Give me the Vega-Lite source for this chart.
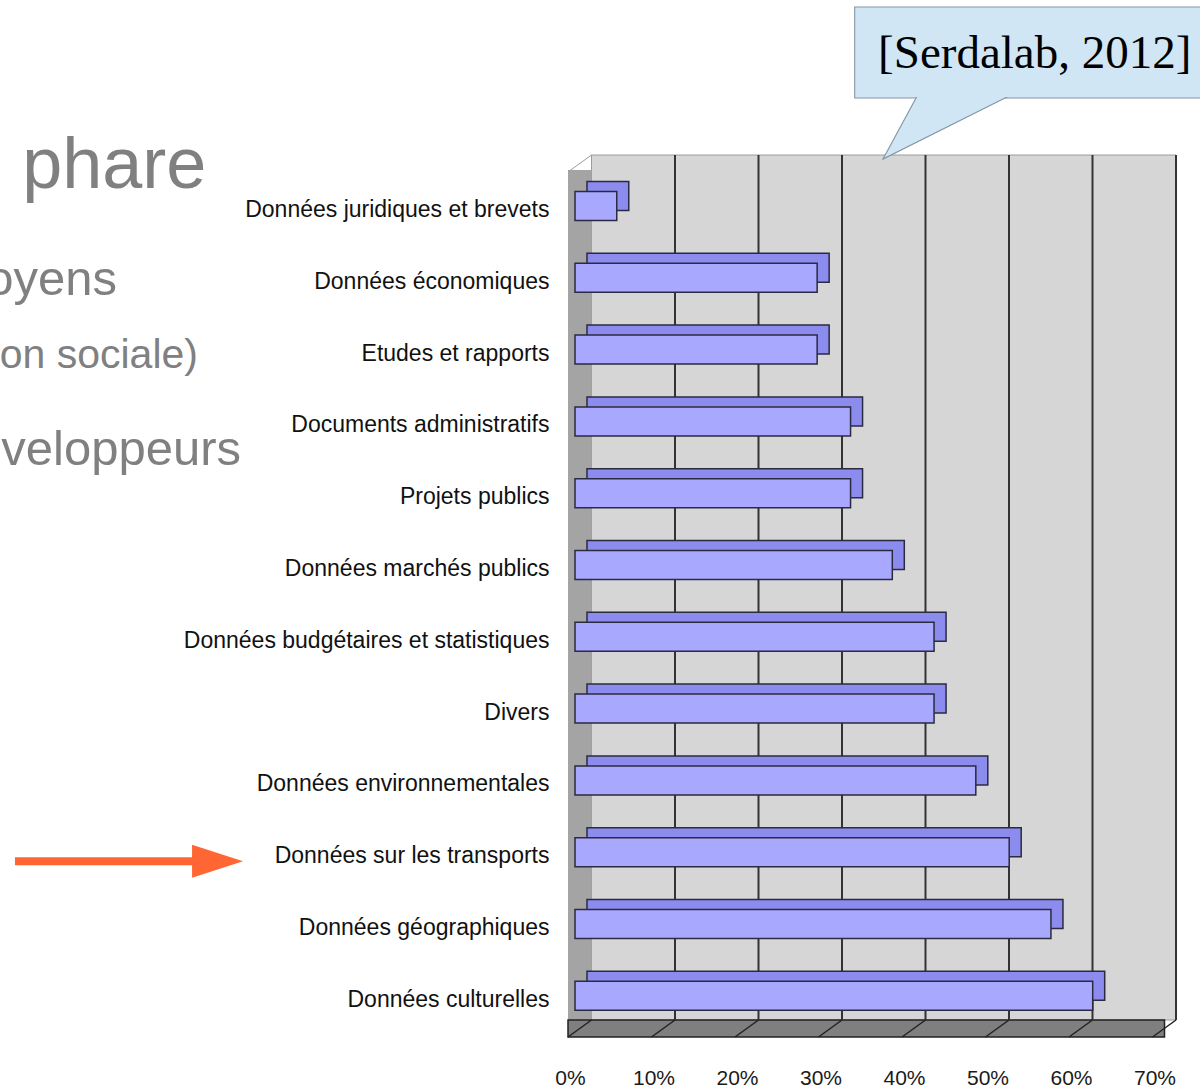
{
  "$schema": "https://vega.github.io/schema/vega-lite/v6.json",
  "width": 1200,
  "height": 1088,
  "padding": 0,
  "autosize": {"type": "none"},
  "background": "white",
  "config": {"view": {"stroke": null}, "font": "Liberation Sans"},
  "datasets": {
    "bars": [
      {"categorie": "Données juridiques et brevets", "part": 5},
      {"categorie": "Données économiques", "part": 29},
      {"categorie": "Etudes et rapports", "part": 29},
      {"categorie": "Documents administratifs", "part": 33},
      {"categorie": "Projets publics", "part": 33},
      {"categorie": "Données marchés publics", "part": 38},
      {"categorie": "Données budgétaires et statistiques", "part": 43},
      {"categorie": "Divers", "part": 43},
      {"categorie": "Données environnementales", "part": 48},
      {"categorie": "Données sur les transports", "part": 52},
      {"categorie": "Données géographiques", "part": 57},
      {"categorie": "Données culturelles", "part": 62}
    ],
    "grid": [{"v": 10}, {"v": 20}, {"v": 30}, {"v": 40}, {"v": 50}, {"v": 60}, {"v": 70}],
    "floorgrid": [{"v": 0}, {"v": 10}, {"v": 20}, {"v": 30}, {"v": 40}, {"v": 50}, {"v": 60}, {"v": 70}],
    "one": [{}]
  },
  "data": {"name": "bars"},
  "layer": [
    {
      "data": {"name": "one"},
      "mark": {"type": "bar", "color": "#a4a4a4", "height": 865, "yOffset": 389.5},
      "encoding": {
        "x": {"datum": 0, "type": "quantitative"},
        "x2": {"datum": 0},
        "y": {"datum": "Données juridiques et brevets", "type": "nominal"}
      }
    },
    {
      "data": {"name": "one"},
      "mark": {"type": "bar", "color": "#d6d6d6", "stroke": "#9c9c9c", "strokeWidth": 1, "height": 865, "yOffset": 381.5, "xOffset": 16.5, "x2Offset": 16.5},
      "encoding": {
        "x": {"datum": 0, "type": "quantitative"},
        "x2": {"datum": 70},
        "y": {"datum": "Données juridiques et brevets", "type": "nominal"}
      }
    },
    {
      "data": {"name": "one"},
      "mark": {"type": "bar", "color": "#a4a4a4", "height": 855, "yOffset": 391.5, "xOffset": -7, "x2Offset": 16.5},
      "encoding": {
        "x": {"datum": 0, "type": "quantitative"},
        "x2": {"datum": 0},
        "y": {"datum": "Données juridiques et brevets", "type": "nominal"}
      }
    },
    {
      "data": {"name": "one"},
      "mark": {"type": "bar", "color": "#7f7f7f", "stroke": "#222222", "strokeWidth": 1.5, "height": 17, "yOffset": 32.7, "xOffset": -7, "x2Offset": 5},
      "encoding": {
        "x": {"datum": 0, "type": "quantitative"},
        "x2": {"datum": 70},
        "y": {"datum": "Données culturelles", "type": "nominal"}
      }
    },
    {
      "data": {"name": "grid"},
      "mark": {"type": "rule", "color": "#333333", "strokeWidth": 2, "xOffset": 16.5, "yOffset": -51, "y2Offset": 24.2},
      "encoding": {
        "x": {"field": "v", "type": "quantitative"},
        "y": {"datum": "Données juridiques et brevets", "type": "nominal"},
        "y2": {"datum": "Données culturelles"}
      }
    },
    {
      "data": {"name": "floorgrid"},
      "mark": {"type": "rule", "color": "#222222", "strokeWidth": 1.5, "xOffset": 16.5, "x2Offset": -7, "yOffset": 24.2, "y2Offset": 41.2},
      "encoding": {
        "x": {"field": "v", "type": "quantitative"},
        "x2": {"field": "v"},
        "y": {"datum": "Données culturelles", "type": "nominal"},
        "y2": {"datum": "Données culturelles"}
      }
    },
    {
      "data": {"name": "one"},
      "mark": {"type": "rule", "color": "#9c9c9c", "strokeWidth": 1, "xOffset": -7, "x2Offset": 16.5, "yOffset": -34, "y2Offset": -51},
      "encoding": {
        "x": {"datum": 0, "type": "quantitative"},
        "x2": {"datum": 0},
        "y": {"datum": "Données juridiques et brevets", "type": "nominal"},
        "y2": {"datum": "Données juridiques et brevets"}
      }
    },
    {
      "mark": {"type": "bar", "color": "#8c8cee", "stroke": "#2a2a40", "strokeWidth": 1.5, "xOffset": 12, "x2Offset": 12, "yOffset": -10, "y2Offset": -10},
      "encoding": {
        "x": {"field": "part", "type": "quantitative"},
        "x2": {"datum": 0},
        "y": {"field": "categorie", "type": "nominal"}
      }
    },
    {
      "mark": {"type": "bar", "color": "#a8a8ff", "stroke": "#2a2a40", "strokeWidth": 1.5},
      "encoding": {
        "x": {
          "field": "part",
          "type": "quantitative",
          "scale": {"domain": [-68.862, 74.85], "nice": false, "zero": false},
          "axis": {
            "orient": "bottom",
            "offset": -4,
            "values": [0, 10, 20, 30, 40, 50, 60, 70],
            "labelExpr": "datum.value + '%'",
            "domain": false,
            "ticks": false,
            "tickSize": 0,
            "grid": false,
            "title": null,
            "labelPadding": 0,
            "labelBaseline": "alphabetic",
            "labelFontSize": 21,
            "labelColor": "#1a1a1a",
            "labelOffset": -5,
            "labelOverlap": false,
            "labelFlush": false
          }
        },
        "x2": {"datum": 0},
        "y": {
          "field": "categorie",
          "type": "nominal",
          "scale": {
            "domain": ["Données juridiques et brevets", "Données économiques", "Etudes et rapports", "Documents administratifs", "Projets publics", "Données marchés publics", "Données budgétaires et statistiques", "Divers", "Données environnementales", "Données sur les transports", "Données géographiques", "Données culturelles"],
            "range": [191.5, 1010.3],
            "paddingInner": 0.596,
            "paddingOuter": 0,
            "round": false
          },
          "axis": {
            "orient": "left",
            "offset": -549,
            "domain": false,
            "ticks": false,
            "tickSize": 0,
            "grid": false,
            "title": null,
            "labelPadding": 0,
            "labelLimit": 0,
            "labelFontSize": 23,
            "labelColor": "#111111",
            "labelOffset": 4,
            "labelAlign": "right"
          }
        }
      }
    },
    {
      "data": {"name": "one"},
      "mark": {"type": "bar", "color": "#d0e6f4", "stroke": "#8597a8", "strokeWidth": 1.2, "height": 91, "yOffset": -153.5},
      "encoding": {
        "x": {"datum": 33.5, "type": "quantitative"},
        "x2": {"datum": 76.5},
        "y": {"datum": "Données juridiques et brevets", "type": "nominal"}
      }
    },
    {
      "data": {"name": "one"},
      "mark": {"type": "point", "shape": "M-0.423,-0.566L1.131,-0.566L-1,0.5Z", "size": 14884, "filled": true, "fill": "#d0e6f4", "opacity": 1, "stroke": "#8597a8", "strokeWidth": 1.2, "yOffset": -77.5},
      "encoding": {
        "x": {"datum": 44.19, "type": "quantitative"},
        "y": {"datum": "Données juridiques et brevets", "type": "nominal"}
      }
    },
    {
      "data": {"name": "one"},
      "mark": {"type": "bar", "color": "#d0e6f4", "height": 89, "yOffset": -153.5, "xOffset": 1},
      "encoding": {
        "x": {"datum": 33.5, "type": "quantitative"},
        "x2": {"datum": 76.5},
        "y": {"datum": "Données juridiques et brevets", "type": "nominal"}
      }
    },
    {
      "data": {"name": "one"},
      "mark": {"type": "text", "text": "[Serdalab, 2012]", "font": "Liberation Serif", "fontSize": 47, "color": "#000000", "align": "left", "baseline": "alphabetic", "dy": -138},
      "encoding": {
        "x": {"datum": 36.3, "type": "quantitative"},
        "y": {"datum": "Données juridiques et brevets", "type": "nominal"}
      }
    },
    {
      "data": {"name": "one"},
      "mark": {"type": "rule", "color": "#ff6633", "strokeWidth": 8, "yOffset": 9, "y2Offset": 9},
      "encoding": {
        "x": {"datum": -67.07, "type": "quantitative"},
        "x2": {"datum": -44.9},
        "y": {"datum": "Données sur les transports", "type": "nominal"}
      }
    },
    {
      "data": {"name": "one"},
      "mark": {"type": "point", "shape": "M-1,-0.647L1,0L-1,0.647Z", "size": 2601, "filled": true, "color": "#ff6633", "opacity": 1, "strokeWidth": 0, "yOffset": 9},
      "encoding": {
        "x": {"datum": -42.81, "type": "quantitative"},
        "y": {"datum": "Données sur les transports", "type": "nominal"}
      }
    },
    {
      "data": {"name": "one"},
      "mark": {"type": "text", "text": "phare", "fontSize": 72, "color": "#808080", "align": "left", "baseline": "alphabetic", "dy": -18},
      "encoding": {
        "x": {"datum": -66.2, "type": "quantitative"},
        "y": {"datum": "Données juridiques et brevets", "type": "nominal"}
      }
    },
    {
      "data": {"name": "one"},
      "mark": {"type": "text", "text": "oyens", "fontSize": 49, "color": "#808080", "align": "right", "baseline": "alphabetic", "dy": 17},
      "encoding": {
        "x": {"datum": -54.85, "type": "quantitative"},
        "y": {"datum": "Données économiques", "type": "nominal"}
      }
    },
    {
      "data": {"name": "one"},
      "mark": {"type": "text", "text": "on sociale)", "fontSize": 41, "color": "#808080", "align": "right", "baseline": "alphabetic", "dy": 18},
      "encoding": {
        "x": {"datum": -45.15, "type": "quantitative"},
        "y": {"datum": "Etudes et rapports", "type": "nominal"}
      }
    },
    {
      "data": {"name": "one"},
      "mark": {"type": "text", "text": "veloppeurs", "fontSize": 49, "color": "#808080", "align": "right", "baseline": "alphabetic", "dy": 44},
      "encoding": {
        "x": {"datum": -40.0, "type": "quantitative"},
        "y": {"datum": "Documents administratifs", "type": "nominal"}
      }
    }
  ]
}
